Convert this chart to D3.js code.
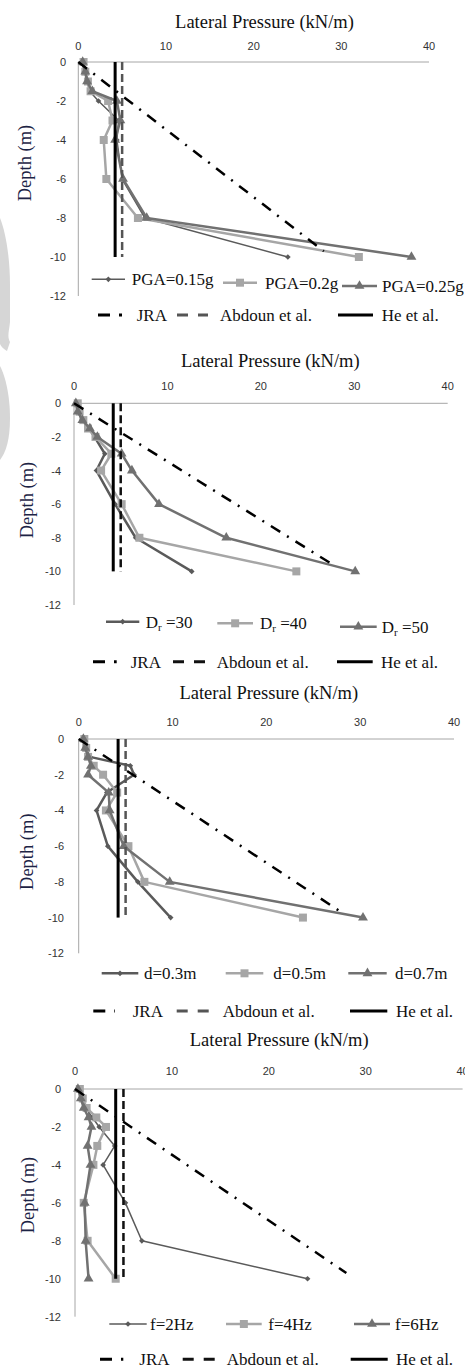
<!DOCTYPE html>
<html>
<head>
<meta charset="utf-8">
<script src="https://cdnjs.cloudflare.com/ajax/libs/d3/7.8.5/d3.min.js"></script>
<style>
  body { margin: 0; background: #fff; }
  svg { display: block; }
</style>
</head>
<body>
<svg width="465" height="1370"></svg>
<script>
// depth of each measuring point (m)
const depths = [0, -0.5, -1, -1.5, -2, -3, -4, -6, -8, -10];

const xTicks = [0, 10, 20, 30, 40];
const yTicks = [0, -2, -4, -6, -8, -10, -12];

// lateral pressure (kN/m) for each depth
const pga015 = [0.4, 0.7, 1.0, 1.3, 2.3, 4.6, 4.4, 5.0, 7.6, 23.9];
const pga02  = [0.6, 0.8, 1.1, 1.4, 3.4, 3.9, 2.9, 3.2, 6.8, 32.0];
const pga025 = [0.5, 0.8, 1.0, 1.6, 4.4, 4.8, 4.2, 5.1, 7.8, 38.0];

const dr30 = [0.2, 0.5, 0.9, 1.6, 2.2, 3.3, 2.4, 4.4, 6.6, 12.6];
const dr40 = [0.4, 0.6, 1.0, 1.5, 2.3, 4.0, 2.9, 5.1, 7.0, 23.8];
const dr50 = [0.2, 0.4, 0.9, 1.7, 2.5, 5.1, 6.2, 9.1, 16.3, 30.1];

const d03 = [0.4, 0.7, 1.2, 5.5, 5.9, 3.0, 1.9, 3.1, 6.3, 9.8];
const d05 = [0.6, 0.8, 1.0, 1.6, 2.6, 4.1, 2.9, 5.3, 7.0, 23.9];
const d07 = [0.5, 0.7, 1.0, 1.3, 1.0, 3.2, 3.3, 4.8, 9.7, 30.3];

const f2 = [0.3, 0.7, 1.1, 1.8, 2.5, 4.1, 2.9, 5.2, 6.9, 24.0];
const f4 = [0.5, 0.8, 1.2, 2.2, 3.2, 2.3, 1.9, 0.9, 1.3, 4.2];
const f6 = [0.3, 0.6, 0.9, 1.4, 1.7, 1.3, 1.6, 1.0, 1.1, 1.4];

// design curves
const jraLine = [[0, 0], [28, -9.7]];
const abdounX = 5.0;
const heX = 4.2;
const refDepth = [0, -10];

const pgaLabels = ["PGA=0.15g", "PGA=0.2g", "PGA=0.25g"];
const drLabels = ["30", "40", "50"];
const dLabels = ["d=0.3m", "d=0.5m", "d=0.7m"];
const fLabels = ["f=2Hz", "f=4Hz", "f=6Hz"];
const refLabels = ["JRA", "Abdoun et al.", "He et al."];

const seriesColor = ["#5a5a5a", "#a6a6a6", "#717171"];
const markers = ["diamond", "square", "triangle"];

const panels = [
  { series: [pga015, pga02, pga025], labels: pgaLabels, sub: false,
    x0: 78.3, x1: 429, top: 62, bottom: 296,
    titleX: 264.5, titleY: 21, tickY: 46, yLabelX: 66, depthX: 25, depthY: 163,
    widths: [1.5, 2.5, 2.5], abdounColor: "#555",
    leg1: { y: [279.3, 282.7, 286], line: [[91.7, 125], [223, 257], [342, 377]], text: [131.7, 265, 382] },
    leg2: { y: 315, line: [[98, 122], [177, 208], [338, 373]], text: [136.7, 220, 381.7] } },
  { series: [dr30, dr40, dr50], labels: drLabels, sub: true,
    x0: 74, x1: 447.7, top: 403.3, bottom: 605,
    titleX: 270.3, titleY: 360.7, tickY: 385.7, yLabelX: 61, depthX: 27.3, depthY: 500,
    widths: [2.5, 2.5, 2.5], abdounColor: "#111",
    leg1: { y: [621.7, 623.3, 626.7], line: [[106, 139.3], [217.3, 253], [340, 376.7]], text: [145.7, 260, 381.7] },
    leg2: { y: 661.7, line: [[93, 116.7], [173, 205], [337, 372.7]], text: [130.7, 216.7, 381] } },
  { series: [d03, d05, d07], labels: dLabels, sub: false,
    x0: 78.7, x1: 454, top: 739, bottom: 953.3,
    titleX: 268.8, titleY: 692.3, tickY: 721.7, yLabelX: 64, depthX: 26.7, depthY: 851.7,
    widths: [2.5, 2.5, 2.5], abdounColor: "#555",
    leg1: { y: [973.3, 973.3, 973.3], line: [[101.7, 138.3], [225.7, 263.3], [348.3, 386.7]], text: [144, 273.3, 395] },
    leg2: { y: 1011, line: [[93.3, 115], [176.7, 210.7], [350, 387.3]], text: [132.7, 222.7, 396] } },
  { series: [f2, f4, f6], labels: fLabels, sub: false,
    x0: 75, x1: 462.6, top: 1089, bottom: 1316.7,
    titleX: 279.2, titleY: 1039.3, tickY: 1071, yLabelX: 61, depthX: 28.3, depthY: 1195,
    widths: [1.5, 2.5, 2.5], abdounColor: "#111",
    leg1: { y: [1324, 1324, 1324], line: [[109.3, 146.7], [226, 261.7], [354, 390]], text: [150, 268.3, 395] },
    leg2: { y: 1359.3, line: [[100, 123.3], [182.7, 215], [350.7, 387.7]], text: [139.3, 226.7, 396] } }
];

const svg = d3.select("svg");
const serif = "'Liberation Serif', 'Times New Roman', serif";
const sans = "'Liberation Sans', Arial, sans-serif";

// faint watermark on the left edge
svg.append("path")
  .attr("d", "M0,218 C5,230 10,255 10,285 L10,322 C9,332 7,336 10,342 L7,351 C3,349 1,346 0,344 Z")
  .attr("fill", "#d6d6d6");
svg.append("path")
  .attr("d", "M0,366 C5,375 10,395 10,418 C10,440 6,452 0,460 Z")
  .attr("fill", "#d6d6d6");

function markerPath(type) {
  if (type === "square") return d3.symbol(d3.symbolSquare, 64)();
  if (type === "triangle") return d3.symbol(d3.symbolTriangle, 42)();
  return d3.symbol(d3.symbolSquare, 16)();
}

function drawMarker(g, type, x, y, color) {
  g.append("path")
    .attr("d", markerPath(type))
    .attr("fill", color)
    .attr("transform", `translate(${x},${y})` + (type === "diamond" ? " rotate(45)" : ""));
}

panels.forEach(p => {
  const x = d3.scaleLinear().domain([0, 40]).range([p.x0, p.x1]);
  const y = d3.scaleLinear().domain([0, -12]).range([p.top, p.bottom]);
  const g = svg.append("g");

  // title
  g.append("text")
    .attr("x", p.titleX).attr("y", p.titleY + 6.5)
    .attr("text-anchor", "middle")
    .attr("font-family", serif).attr("font-size", 18.5)
    .attr("fill", "#111")
    .text("Lateral Pressure (kN/m)");

  // axis lines
  g.append("line")
    .attr("x1", x(0)).attr("x2", x(40)).attr("y1", y(0)).attr("y2", y(0))
    .attr("stroke", "#a6a6a6").attr("stroke-width", 1);
  g.append("line")
    .attr("x1", x(0)).attr("x2", x(0)).attr("y1", y(0)).attr("y2", y(-12))
    .attr("stroke", "#a6a6a6").attr("stroke-width", 1);

  g.selectAll(".xt").data(xTicks).join("text")
    .attr("x", d => x(d)).attr("y", p.tickY + 4)
    .attr("text-anchor", "middle")
    .attr("font-family", sans).attr("font-size", 11)
    .attr("fill", "#333")
    .text(d => d);

  g.selectAll(".yt").data(yTicks).join("text")
    .attr("x", p.yLabelX).attr("y", d => y(d) + 4)
    .attr("text-anchor", "end")
    .attr("font-family", sans).attr("font-size", 11)
    .attr("fill", "#333")
    .text(d => d);

  g.append("text")
    .attr("transform", `translate(${p.depthX + 6},${p.depthY}) rotate(-90)`)
    .attr("text-anchor", "middle")
    .attr("font-family", serif).attr("font-size", 18.5)
    .attr("fill", "#1c2345")
    .text("Depth (m)");

  const line = d3.line()
    .x(d => x(d[0]))
    .y(d => y(d[1]));

  // measured series
  p.series.forEach((vals, i) => {
    const pts = vals.map((v, k) => [v, depths[k]]);
    g.append("path")
      .attr("d", line(pts))
      .attr("fill", "none")
      .attr("stroke", seriesColor[i])
      .attr("stroke-width", p.widths[i])
      .attr("stroke-linejoin", "round");
    pts.forEach(pt => drawMarker(g, markers[i], x(pt[0]), y(pt[1]), seriesColor[i]));
  });

  // reference curves
  g.append("path")
    .attr("d", line(jraLine))
    .attr("fill", "none").attr("stroke", "#000")
    .attr("stroke-width", 2.5).attr("stroke-dasharray", "11,8,2,8");
  g.append("path")
    .attr("d", line(refDepth.map(d => [abdounX, d])))
    .attr("fill", "none").attr("stroke", p.abdounColor)
    .attr("stroke-width", 2.5).attr("stroke-dasharray", "8,4");
  g.append("path")
    .attr("d", line(refDepth.map(d => [heX, d])))
    .attr("fill", "none").attr("stroke", "#000")
    .attr("stroke-width", 3);

  // legend, first row
  p.labels.forEach((lab, i) => {
    const ly = p.leg1.y[i];
    const [a, b] = p.leg1.line[i];
    g.append("line")
      .attr("x1", a).attr("x2", b).attr("y1", ly).attr("y2", ly)
      .attr("stroke", seriesColor[i]).attr("stroke-width", p.widths[i]);
    drawMarker(g, markers[i], (a + b) / 2, ly, seriesColor[i]);
    const t = g.append("text")
      .attr("x", p.leg1.text[i]).attr("y", ly + 6)
      .attr("font-family", serif).attr("font-size", 17)
      .attr("fill", "#111");
    if (p.sub) {
      t.append("tspan").text("D");
      t.append("tspan").attr("font-size", 11).attr("dy", 3).text("r");
      t.append("tspan").attr("dy", -3).text(" =" + lab);
    } else {
      t.text(lab);
    }
  });

  // legend, second row
  const ly2 = p.leg2.y;
  const dashes = ["12,9,3", "11,10", null];
  const refStroke = ["#000", p.abdounColor, "#000"];
  refLabels.forEach((lab, i) => {
    const [a, b] = p.leg2.line[i];
    const ln = g.append("line")
      .attr("x1", a).attr("x2", b).attr("y1", ly2).attr("y2", ly2)
      .attr("stroke", refStroke[i]).attr("stroke-width", 3);
    if (dashes[i]) ln.attr("stroke-dasharray", dashes[i]);
    g.append("text")
      .attr("x", p.leg2.text[i]).attr("y", ly2 + 6)
      .attr("font-family", serif).attr("font-size", 17)
      .attr("fill", "#111")
      .text(lab);
  });
});
</script>
</body>
</html>
